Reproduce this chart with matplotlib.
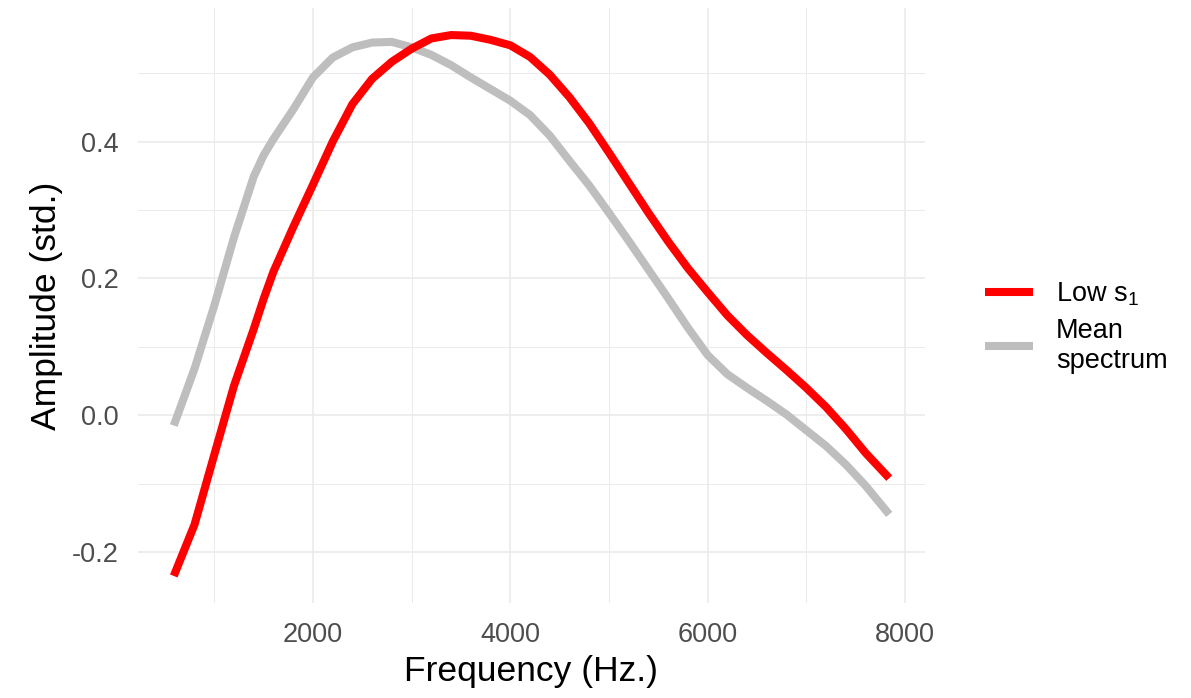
import numpy as np
import matplotlib.pyplot as plt
from matplotlib.ticker import MultipleLocator

plt.rcParams['font.family'] = ['Liberation Sans', 'DejaVu Sans']
plt.rcParams['mathtext.fontset'] = 'custom'
plt.rcParams['mathtext.rm'] = 'Liberation Sans'
plt.rcParams['mathtext.it'] = 'Liberation Sans'

freq = [590, 800, 1000, 1200, 1400, 1500, 1600, 1800, 2000, 2200, 2400, 2600, 2800,
        3000, 3200, 3400, 3600, 3800, 4000, 4200, 4400, 4600, 4800, 5000, 5200,
        5400, 5600, 5800, 6000, 6200, 6400, 6600, 6800, 7000, 7200, 7400, 7600, 7840]

low_s1 = [-0.235, -0.16, -0.058, 0.043, 0.126, 0.17, 0.21, 0.275, 0.337, 0.40, 0.455,
          0.492, 0.517, 0.536, 0.551, 0.556, 0.555, 0.549, 0.541, 0.524, 0.498,
          0.465, 0.427, 0.384, 0.340, 0.296, 0.254, 0.215, 0.180, 0.146, 0.117,
          0.091, 0.066, 0.040, 0.012, -0.020, -0.055, -0.092]

mean_spec = [-0.015, 0.068, 0.16, 0.26, 0.349, 0.38, 0.404, 0.447, 0.494, 0.523, 0.538,
             0.545, 0.546, 0.538, 0.527, 0.512, 0.494, 0.477, 0.46, 0.439, 0.409,
             0.372, 0.336, 0.296, 0.255, 0.213, 0.171, 0.128, 0.088, 0.060, 0.040,
             0.021, 0.001, -0.022, -0.045, -0.072, -0.103, -0.145]

fig = plt.figure(figsize=(11.91, 6.98), dpi=100)
ax = fig.add_axes([138 / 1191, 95 / 698, 787 / 1191, 595 / 698])

ax.plot(freq, low_s1, color='#FF0000', linewidth=5.8, label='Low s$_1$',
        solid_capstyle='butt', zorder=3)
ax.plot(freq, mean_spec, color='#BEBEBE', linewidth=5.8, label='Mean\nspectrum',
        solid_capstyle='butt', zorder=2)

# ggplot style 5% expansion
xr = max(freq) - min(freq)
ax.set_xlim(min(freq) - 0.05 * xr, max(freq) + 0.05 * xr)
ymin = min(min(low_s1), min(mean_spec))
ymax = max(max(low_s1), max(mean_spec))
yr = ymax - ymin
ax.set_ylim(ymin - 0.05 * yr, ymax + 0.05 * yr)

ax.xaxis.set_major_locator(MultipleLocator(2000))
ax.xaxis.set_minor_locator(MultipleLocator(1000))
ax.yaxis.set_minor_locator(MultipleLocator(0.1))
ax.set_yticks([-0.2, 0.0, 0.2, 0.4])
ax.set_yticklabels(['-0.2', '0.0', '0.2', '0.4'])

ax.grid(which='major', color='#EBEBEB', linewidth=1.2)
ax.grid(which='minor', color='#EBEBEB', linewidth=0.7)
ax.set_axisbelow(True)
for s in ax.spines.values():
    s.set_visible(False)
ax.tick_params(which='both', length=0, labelsize=19.5, labelcolor='#4D4D4D', pad=14)

ax.set_xlabel('Frequency (Hz.)', fontsize=25.5, labelpad=5)
ax.set_ylabel('Amplitude (std.)', fontsize=25.5, labelpad=6)

fig.legend(loc='center left', bbox_to_anchor=(961 / 1191, 0.531), frameon=False,
           fontsize=19.5, handlelength=1.75, handletextpad=0.85, labelspacing=0.35)

fig.savefig('out.png', dpi=100)
